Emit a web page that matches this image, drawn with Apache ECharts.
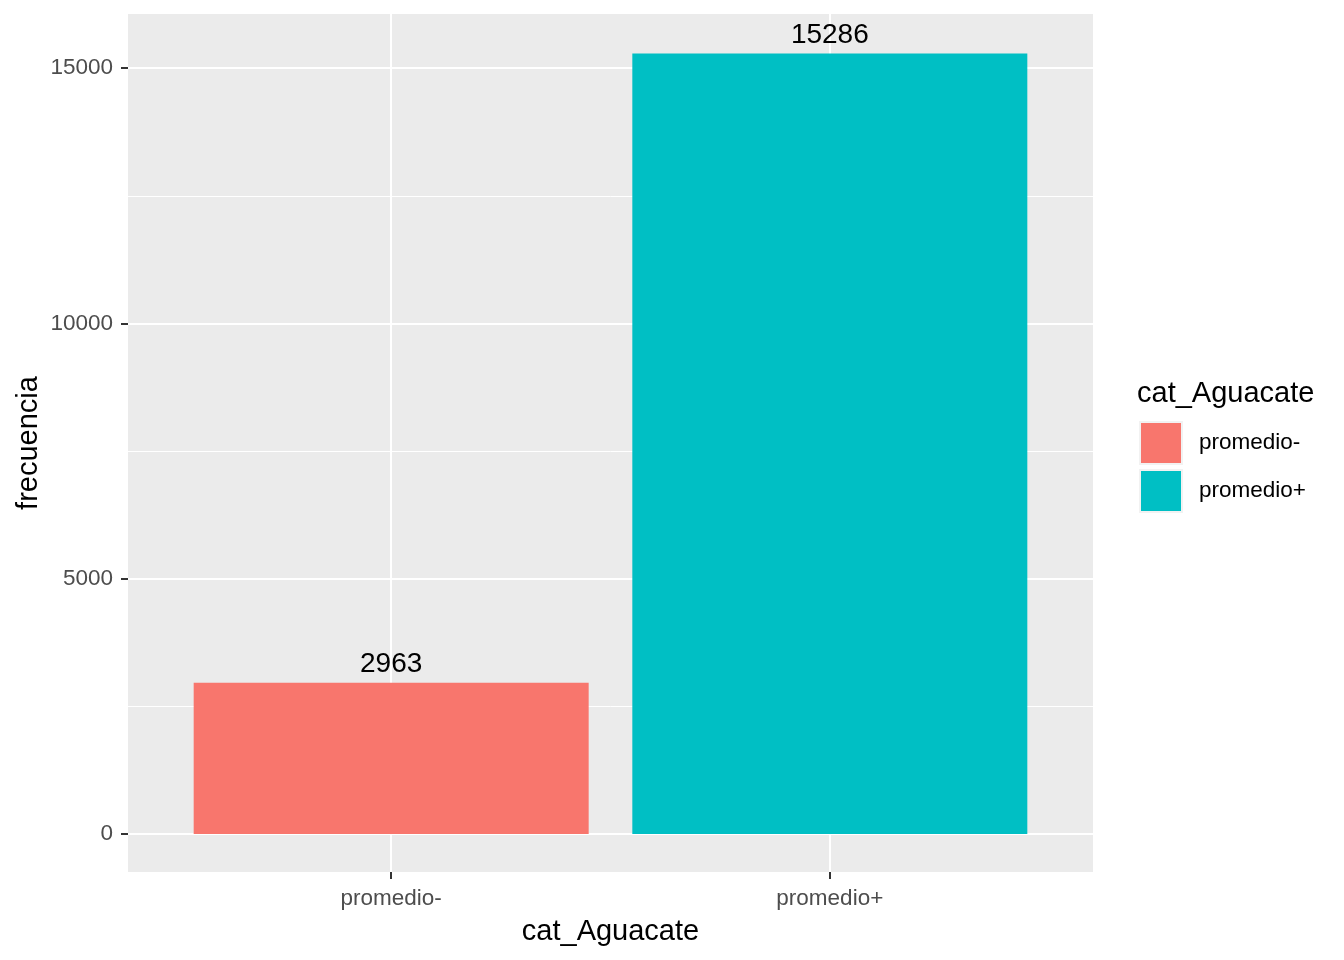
<!DOCTYPE html>
<html>
<head>
<meta charset="utf-8">
<script src="https://cdn.jsdelivr.net/npm/echarts@6/dist/echarts.min.js"></script>
<style>
  html, body { margin: 0; padding: 0; background: #fff; }
  #chart { width: 1344px; height: 960px; }
</style>
</head>
<body>
<div id="chart"></div>
<script>
const categories = ['promedio-', 'promedio+']
const counts = [2963, 15286]
const barColors = ['#F8766D', '#00BFC4']
const yTicks = [0, 5000, 10000, 15000]
const yMinorTicks = [2500, 7500, 12500]

const font = '"Liberation Sans", Arial, sans-serif'

const chart = echarts.init(document.getElementById('chart'))

const series = categories.map((name, i) => ({
  name: name,
  type: 'bar',
  data: [[i + 1, counts[i]]],
  barWidth: 395,
  barGap: '-100%',
  itemStyle: { color: barColors[i] },
  z: 3,
  label: {
    show: true,
    position: 'top',
    distance: 4,
    color: '#000',
    fontSize: 28,
    fontFamily: font
  }
}))

// minor horizontal grid lines, under the bars
series.push({
  type: 'line',
  data: [],
  z: 1,
  silent: true,
  markLine: {
    z: 1,
    symbol: 'none',
    silent: true,
    label: { show: false },
    lineStyle: { color: '#fff', width: 1, type: 'solid' },
    data: yMinorTicks.map(v => ({ yAxis: v }))
  }
})

const option = {
  animation: false,
  backgroundColor: '#fff',
  textStyle: { fontFamily: font },
  title: {
    text: 'cat_Aguacate',
    left: 1132,
    top: 374,
    textStyle: { fontSize: 29, fontWeight: 'normal', color: '#000', fontFamily: font }
  },
  legend: {
    orient: 'vertical',
    left: 1134,
    top: 416,
    itemWidth: 42,
    itemHeight: 42,
    itemGap: 4,
    icon: 'rect',
    data: categories,
    itemStyle: { borderColor: '#F2F2F2', borderWidth: 2 },
    textStyle: { fontSize: 22.5, color: '#000', fontFamily: font, padding: [2, 0, 0, 12] }
  },
  grid: { left: 128, right: 251, top: 14, bottom: 88, show: true, backgroundColor: '#EBEBEB', borderWidth: 0 },
  xAxis: {
    type: 'value',
    min: 0.4,
    max: 2.6,
    name: 'cat_Aguacate',
    nameLocation: 'middle',
    nameGap: 45,
    nameMoveOverlap: false,
    nameTextStyle: { fontSize: 29, color: '#000', fontFamily: font },
    axisLine: { show: false, onZero: false },
    axisTick: { show: true, length: 7, lineStyle: { color: '#333', width: 2 }, customValues: [1, 2] },
    axisLabel: {
      customValues: [1, 2],
      formatter: v => categories[Math.round(v) - 1],
      fontSize: 22.5, color: '#4D4D4D', margin: 15, fontFamily: font
    },
    splitLine: { show: true, lineStyle: { color: '#fff', width: 2 } }
  },
  yAxis: {
    type: 'value',
    min: -744,
    max: 16060,
    name: 'frecuencia',
    nameLocation: 'middle',
    nameRotate: 90,
    nameGap: 85,
    nameMoveOverlap: false,
    nameTextStyle: { fontSize: 29, color: '#000', fontFamily: font },
    axisLine: { show: false, onZero: false },
    axisTick: { show: true, length: 7, lineStyle: { color: '#333', width: 2 }, customValues: yTicks },
    axisLabel: { customValues: yTicks, formatter: v => String(v), fontSize: 22.5, color: '#4D4D4D', margin: 15, fontFamily: font },
    splitLine: { show: true, lineStyle: { color: '#fff', width: 2 } }
  },
  series: series
}

chart.setOption(option)
</script>
</body>
</html>
